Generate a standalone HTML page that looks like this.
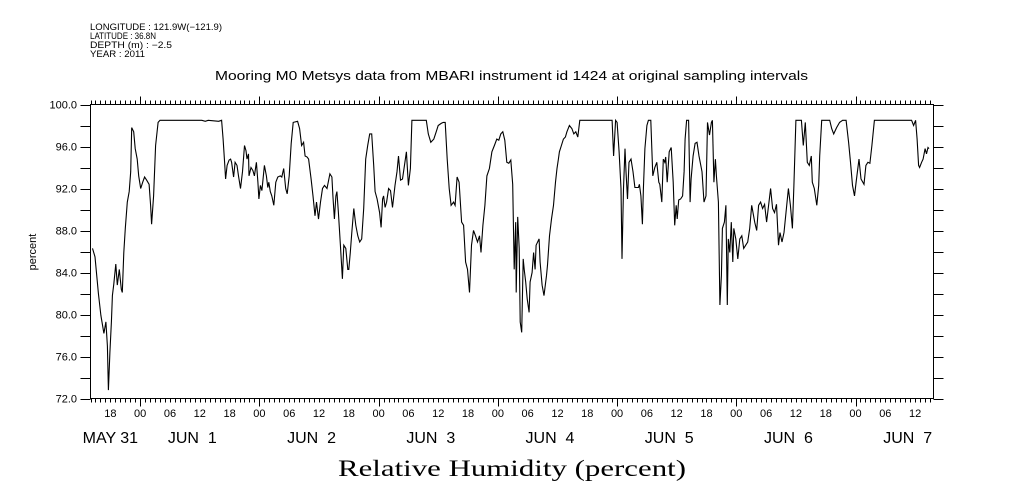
<!DOCTYPE html>
<html><head><meta charset="utf-8"><style>
body{margin:0;background:#fff;}
svg{display:block;font-family:"Liberation Sans",sans-serif;}
</style></head><body>
<svg id="chart" width="1009" height="504" viewBox="0 0 1009 504" xmlns="http://www.w3.org/2000/svg">
<rect width="1009" height="504" fill="#fff"/>
<g font-size="9" fill="#000" lengthAdjust="spacingAndGlyphs">
<text x="90" y="30" textLength="132" lengthAdjust="spacingAndGlyphs">LONGITUDE : 121.9W(−121.9)</text>
<text x="90" y="39" textLength="66" lengthAdjust="spacingAndGlyphs">LATITUDE : 36.8N</text>
<text x="90" y="48" textLength="82" lengthAdjust="spacingAndGlyphs">DEPTH (m) : −2.5</text>
<text x="90" y="57" textLength="55" lengthAdjust="spacingAndGlyphs">YEAR : 2011</text>
</g>
<text x="215" y="80" textLength="593" lengthAdjust="spacingAndGlyphs" font-size="12.5">Mooring M0 Metsys data from MBARI instrument id 1424 at original sampling intervals</text>
<text transform="translate(36,252) rotate(-90)" text-anchor="middle" font-size="11">percent</text>
<text x="338" y="476" textLength="348" lengthAdjust="spacingAndGlyphs" font-size="23" font-family="Liberation Serif, serif">Relative Humidity (percent)</text>
<g id="axes"></g>
<g id="series"></g>
</svg>
<script>
const times=[
-9.6,-9.1,-8.4,-7.9,-7.3,-6.9,-6.6,-6.4,-6.1,-5.8,
-5.6,-5.3,-4.9,-4.6,-4.2,-3.8,-3.6,-3.3,-3.0,-2.6,
-2.2,-1.9,-1.7,-1.3,-1.0,-0.6,-0.3,0.1,0.5,0.9,
1.3,1.8,2.1,2.3,2.7,3.1,3.6,4.0,12.4,13.1,
13.7,15.8,16.4,16.7,17.0,17.2,17.5,17.9,18.2,18.4,
18.8,19.1,19.5,19.8,20.2,20.6,21.0,21.3,21.5,21.8,
21.9,22.3,22.7,23.0,23.4,23.7,23.9,24.2,24.5,25.0,
25.4,25.7,25.9,26.2,26.5,26.9,27.3,27.7,28.2,28.5,
28.9,29.3,29.6,30.0,30.4,30.8,31.7,32.1,32.5,32.9,
33.2,33.6,33.9,34.4,34.8,35.2,35.5,35.9,36.3,36.7,
37.1,37.6,38.2,38.6,38.8,39.1,39.4,39.6,39.9,40.3,
40.7,41.0,41.4,41.8,42.0,42.3,42.6,43.0,43.4,43.8,
44.2,44.6,45.0,45.4,45.8,46.2,46.6,47.0,47.3,47.7,
48.2,48.5,48.8,49.0,49.3,
49.6,50.0,50.4,50.8,51.3,51.7,52.0,52.4,52.8,53.3,
53.6,54.0,54.4,54.7,57.6,58.0,58.5,59.1,59.6,60.0,
60.6,61.0,61.4,61.8,62.2,62.6,63.1,63.4,63.8,64.2,
64.7,65.1,65.5,65.9,66.3,66.7,67.1,67.5,67.9,68.3,
68.6,69.0,69.4,69.8,70.3,70.8,71.3,71.8,72.2,72.6,
73.0,73.4,73.8,74.2,74.6,75.0,75.3,75.6,75.7,76.0,
76.3,76.5,76.8,77.1,77.3,77.6,77.9,78.3,78.5,78.9,
79.2,79.5,79.7,80.3,80.5,80.9,81.3,81.8,82.0,82.4,
82.8,83.2,83.6,83.9,84.2,84.4,84.8,85.2,85.6,85.9,
86.4,86.9,87.3,87.7,88.1,88.5,95.0,95.3,95.7,96.0,
96.4,96.8,97.0,97.3,97.6,97.8,98.1,98.4,98.8,99.2,
99.6,100.3,100.5,100.8,101.1,101.3,101.6,102.0,102.3,102.8,
103.2,103.6,104.0,104.4,
104.6,105.0,105.3,105.6,105.8,106.1,106.5,106.9,107.3,107.6,
107.9,108.1,108.4,108.8,109.2,109.5,109.7,110.0,110.4,110.7,
110.9,111.3,111.7,112.1,112.5,113.1,113.5,113.9,114.2,114.6,
115.0,115.2,115.5,115.8,116.0,116.4,116.7,117.0,117.2,117.6,
117.9,118.2,118.4,118.7,119.0,119.3,119.5,119.9,120.3,120.7,
121.1,121.5,121.9,122.3,122.7,123.1,123.7,124.1,124.5,124.9,
125.3,125.7,126.1,126.5,126.9,127.3,127.7,128.1,128.5,128.8,
129.2,129.6,130.0,130.5,130.9,131.3,131.6,132.0,133.1,133.5,
133.9,134.3,134.7,135.1,135.3,135.7,136.2,136.6,136.8,137.2,
138.8,139.2,139.6,140.2,140.8,141.4,142.1,142.6,143.0,143.4,
143.8,144.2,144.7,145.1,145.7,146.1,146.5,146.9,147.3,147.8,
155.3,155.7,156.1,156.4,156.7,156.9,157.3,157.6,158.0,158.3,
158.6,158.8];
const values=[
86.3,85.5,82.0,79.9,78.2,79.3,77.0,72.8,76.4,79.3,
81.8,82.9,84.8,82.8,84.3,82.4,82.1,85.9,88.2,90.7,
91.7,93.6,97.8,97.4,95.8,94.8,93.2,92.0,92.6,93.1,
92.8,92.4,90.4,88.6,91.3,96.1,98.3,98.5,98.5,98.4,
98.5,98.4,98.5,96.7,94.5,92.9,94.2,94.7,94.8,94.5,
93.1,94.5,94.2,93.2,92.0,93.6,96.1,95.6,94.8,95.3,
93.2,94.0,93.7,93.2,94.5,92.6,91.0,92.3,91.8,94.2,
93.2,92.1,92.6,91.7,91.3,90.4,92.6,93.1,93.2,93.1,
93.9,92.0,91.5,93.2,96.3,98.3,98.4,97.7,96.1,96.4,
95.1,95.0,94.8,92.9,91.3,89.4,90.7,89.1,90.7,92.0,
92.3,92.0,93.4,93.1,91.3,89.1,91.3,91.7,89.7,86.6,
83.4,86.6,86.3,84.3,84.3,85.9,87.8,90.1,88.5,87.5,
86.9,87.2,90.1,94.8,96.1,97.2,97.2,94.2,91.7,91.0,
89.7,88.3,91.0,91.3,90.2,
90.7,92.0,91.8,90.2,92.3,93.6,95.1,92.8,92.9,94.5,
95.5,92.3,93.9,98.5,98.5,97.2,96.4,96.7,97.4,98.0,
98.2,98.3,98.3,94.8,92.0,90.4,90.7,90.4,93.1,92.6,
88.8,88.5,85.0,84.3,82.1,86.6,88.0,87.5,86.9,87.5,
85.9,88.5,90.4,93.2,93.9,95.5,96.1,96.7,96.6,97.2,
97.4,96.6,94.5,94.4,94.7,92.4,84.3,88.8,82.1,89.3,
86.3,79.3,78.3,85.3,84.3,83.1,81.5,80.2,83.1,84.0,
85.9,84.3,86.6,87.2,85.0,82.8,81.8,83.7,84.7,87.5,
89.1,90.4,92.6,93.9,94.8,95.5,96.1,96.7,96.9,97.4,
98.0,97.7,97.2,97.4,96.9,98.5,98.5,95.1,98.5,98.3,
95.5,92.0,85.3,92.0,95.8,93.6,91.0,94.5,94.8,93.6,
92.1,92.1,92.4,91.3,88.6,92.0,95.8,98.0,98.5,98.5,
93.2,94.0,94.5,92.6,
92.4,90.7,94.8,94.5,95.0,92.6,95.5,95.9,92.6,88.5,
90.4,89.1,90.9,91.0,91.3,93.6,96.7,98.5,98.5,90.7,
92.9,95.1,96.3,96.4,95.1,93.6,90.7,91.3,98.3,97.1,
98.3,98.5,92.6,94.8,93.2,90.7,80.9,83.7,88.2,88.8,
90.4,80.9,87.2,85.9,88.8,85.0,88.2,87.2,85.3,87.2,
87.5,86.3,86.6,86.9,88.2,90.4,88.8,88.0,90.4,90.7,
90.1,90.5,88.8,90.4,92.0,90.1,89.7,90.5,86.6,87.8,
86.9,87.8,89.7,92.0,90.4,88.2,92.3,98.5,98.5,96.1,
98.3,94.5,94.2,95.1,92.6,92.0,90.4,92.3,95.1,98.5,
98.5,97.7,97.2,97.8,98.3,98.5,98.5,96.4,94.5,92.3,
91.3,92.9,94.8,92.9,92.4,94.2,94.5,94.4,96.1,98.5,
98.5,98.0,98.5,96.7,94.2,94.0,94.5,94.8,95.8,95.3,
95.9,95.8];
const yTickLabels=["100.0","96.0","92.0","88.0","84.0","80.0","76.0","72.0"];
const hourLabels=["18","00","06","12"];
const dateLabels=["MAY 31","JUN  1","JUN  2","JUN  3","JUN  4","JUN  5","JUN  6","JUN  7"];

const NS="http://www.w3.org/2000/svg";
const L=90.5,R=933.5,T=104.5,B=398.5;
const H0=-10,H1=159.7,YMIN=72,YMAX=100;
function xs(h){return L+(h-H0)*(R-L)/(H1-H0);}
function ys(v){return B-(v-YMIN)*(B-T)/(YMAX-YMIN);}
function mk(tag,attrs,parent){const e=document.createElementNS(NS,tag);for(const k in attrs)e.setAttribute(k,attrs[k]);parent.appendChild(e);return e;}
const axes=document.getElementById('axes');
const frame=mk('rect',{x:L,y:T,width:R-L,height:B-T,fill:'none',stroke:'#000','stroke-width':1},axes);


for(let v=YMIN;v<=YMAX;v+=2){
  const y=Math.round(ys(v))+0.5;
  const t1=mk('line',{x1:L-10,x2:L,y1:y,y2:y,stroke:'#000'},axes);
  
  
  const t2=mk('line',{x1:R,x2:R+10,y1:y,y2:y,stroke:'#000'},axes);
  
  
}
yTickLabels.forEach(s=>{
  const v=parseFloat(s);
  const t=mk('text',{x:77,y:ys(v)+4,'text-anchor':'end','font-size':11},axes);
  t.textContent=s;
  
  
});
for(let h=Math.ceil(H0);h<=H1;h++){
  const x=Math.round(xs(h))+0.5;
  const hr=((h%24)+24)%24;
  const len=hr===0?8:4;
  const a=mk('line',{x1:x,x2:x,y1:T-len,y2:T,stroke:'#000'},axes);
  
  
  const b=mk('line',{x1:x,x2:x,y1:B,y2:B+len,stroke:'#000'},axes);
  
  
}
for(let h=-6,i=0;h<=H1;h+=6,i++){
  const t=mk('text',{x:xs(h),y:417,'text-anchor':'middle','font-size':11},axes);
  t.textContent=hourLabels[i%4];
  
  
}
dateLabels.forEach((s,i)=>{
  const cx=i===0?xs(-6):xs(i*24-13.5);
  const t=mk('text',{x:cx,y:443,'text-anchor':'middle','font-size':16},axes);
  t.setAttribute('style','white-space:pre');
  t.textContent=s;
  
  
});
const series=document.getElementById('series');
let d='';
times.forEach((h,i)=>{d+=(i?'L':'M')+xs(h).toFixed(1)+' '+ys(values[i]).toFixed(1);});
const p=mk('path',{d:d,fill:'none',stroke:'#000','stroke-width':1.1},series);


</script>
</body></html>
